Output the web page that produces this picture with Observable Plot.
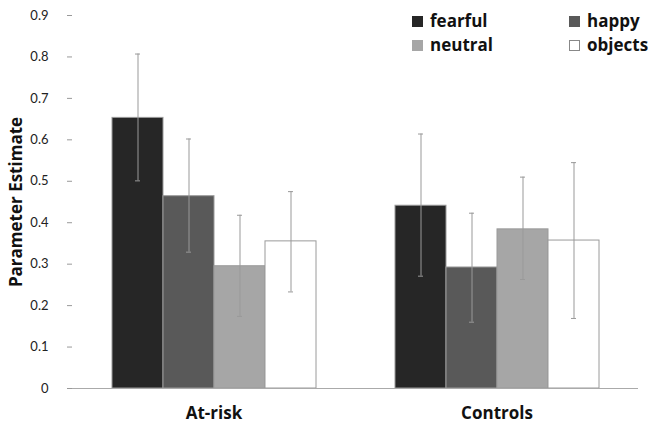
<!DOCTYPE html>
<html><head><meta charset="utf-8">
<script src="https://cdn.jsdelivr.net/npm/d3@7"></script>
<script src="https://cdn.jsdelivr.net/npm/@observablehq/plot@0.6"></script>
<style>
body{margin:0;background:#fff;font-family:Lato,"Open Sans",sans-serif;}
#wrap{position:relative;width:654px;height:431px;}
.legend{position:absolute;font-family:"Open Sans",sans-serif;font-weight:bold;font-size:17px;color:#111;display:flex;align-items:center;line-height:20px;}
.legend span.sw{display:inline-block;width:11px;height:11px;margin-right:7px;box-sizing:border-box;}
</style>
</head><body>
<div id="wrap"></div>
<script>
const groups = ["At-risk", "Controls"];
const conditions = ["fearful", "happy", "neutral", "objects"];
const colors = ["#262626", "#595959", "#a6a6a6", "#ffffff"];
const atRiskMean = [0.653, 0.464, 0.295, 0.355];
const atRiskLow  = [0.501, 0.329, 0.174, 0.233];
const atRiskHigh = [0.807, 0.602, 0.418, 0.475];
const controlsMean = [0.441, 0.292, 0.384, 0.357];
const controlsLow  = [0.271, 0.160, 0.263, 0.169];
const controlsHigh = [0.614, 0.423, 0.510, 0.545];
const yTicks = [0, 0.1, 0.2, 0.3, 0.4, 0.5, 0.6, 0.7, 0.8, 0.9];

const rows = [];
conditions.forEach((c, i) => {
  rows.push({group: groups[0], cond: c, v: atRiskMean[i], lo: atRiskLow[i], hi: atRiskHigh[i]});
  rows.push({group: groups[1], cond: c, v: controlsMean[i], lo: controlsLow[i], hi: controlsHigh[i]});
});

const font = "Lato, 'Open Sans', sans-serif";
const bold = "'Open Sans', sans-serif";
const chart = Plot.plot({
  width: 654, height: 431,
  marginLeft: 72, marginRight: 16, marginTop: 15, marginBottom: 43,
  style: {fontFamily: font, background: "#fff", color: "#222"},
  fx: {domain: groups, padding: 0, label: null},
  x: {domain: conditions, paddingInner: 0, paddingOuter: 0.75, axis: null},
  y: {domain: [0, 0.9]},
  color: {domain: conditions, range: colors},
  marks: [
    Plot.barY(rows, {fx: "group", x: "cond", y: "v", fill: "cond", stroke: "#9a9a9a", strokeWidth: 1}),
    Plot.ruleX(rows, {fx: "group", x: "cond", y1: "lo", y2: "hi", stroke: "#999", strokeWidth: 1}),
    Plot.tickY(rows, {fx: "group", x: "cond", y: "hi", stroke: "#999", insetLeft: 23, insetRight: 23}),
    Plot.tickY(rows, {fx: "group", x: "cond", y: "lo", stroke: "#999", insetLeft: 23, insetRight: 23}),
    Plot.ruleY([0], {stroke: "#aaa"}),
    Plot.ruleX([groups[0]], {fx: d => d, frameAnchor: "left", y1: 0, y2: 0.9, stroke: "#aaa"}),
    Plot.ruleX(groups, {fx: d => d, frameAnchor: "left", y1: 0, y2: -0.02, stroke: "#aaa"}),
    Plot.ruleX([groups[1]], {fx: d => d, frameAnchor: "right", y1: 0, y2: -0.02, stroke: "#aaa"}),
    Plot.axisY({ticks: yTicks, tickFormat: d => d === 0 ? "0" : d.toFixed(1), tickSize: 5, tickPadding: 19, stroke: "#999", color: "#222", fontSize: 13, label: null}),
    Plot.axisY({ticks: [], label: "Parameter Estimate", labelAnchor: "center", labelArrow: "none", labelOffset: 63}),
    Plot.axisFx({anchor: "bottom", tickSize: 0, tickPadding: 18, fontSize: 17, fontWeight: "bold", fontFamily: bold, color: "#111", label: null})
  ]
});
d3.select(chart).selectAll('g[aria-label="y-axis label"]')
  .attr("font-size", 17).attr("font-weight", "bold").attr("font-family", bold).attr("fill", "#111");
const wrap = document.getElementById("wrap");
wrap.appendChild(chart);

const legendPos = [[412, 11], [569, 11], [412, 35], [569, 35]];
conditions.forEach((c, i) => {
  const d = document.createElement("div");
  d.className = "legend";
  d.style.left = legendPos[i][0] + "px";
  d.style.top = legendPos[i][1] + "px";
  const sw = document.createElement("span");
  sw.className = "sw";
  sw.style.background = colors[i];
  sw.style.border = "1px solid " + (i === 3 ? "#888" : colors[i]);
  d.appendChild(sw);
  d.appendChild(document.createTextNode(c));
  wrap.appendChild(d);
});
</script>
</body></html>
